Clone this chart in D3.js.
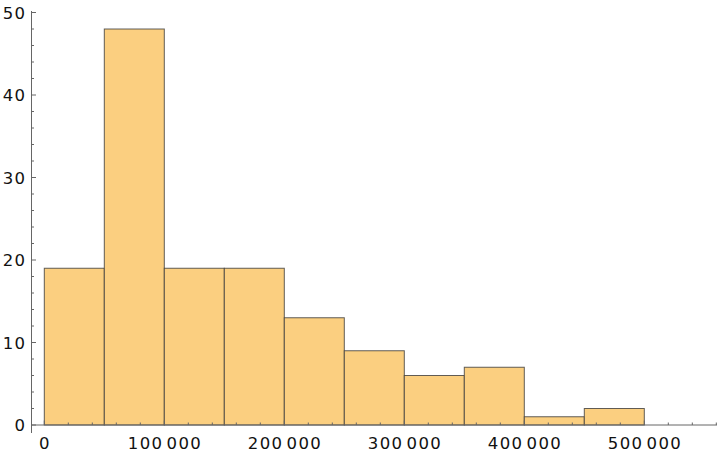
<!DOCTYPE html>
<html><head><meta charset="utf-8">
<script src="https://cdn.jsdelivr.net/npm/d3@7"></script>
<style>body{margin:0;background:#fff}svg{display:block}text{font-family:"DejaVu Sans",sans-serif;fill:#111;letter-spacing:1.4px}</style>
</head><body>
<script>
const binStarts = [0,50000,100000,150000,200000,250000,300000,350000,400000,450000];
const binWidth = 50000;
const counts = [19,48,19,19,13,9,6,7,1,2];
const xTickValues = [0,100000,200000,300000,400000,500000];
const yTickValues = [0,10,20,30,40,50];

const W=720,H=456;
const svg=d3.select("body").append("svg").attr("width",W).attr("height",H);
const x=d3.scaleLinear().domain([0,100000]).range([44.3,164.3]);
const y=d3.scaleLinear().domain([0,50]).range([425,12.5]);
const axisColor="#666";
const fs=16.5;

// bars
svg.append("g").selectAll("rect").data(counts).join("rect")
  .attr("x",(d,i)=>x(binStarts[i]))
  .attr("y",d=>y(d))
  .attr("width",(d,i)=>x(binStarts[i]+binWidth)-x(binStarts[i]))
  .attr("height",d=>y(0)-y(d))
  .attr("fill","#FBCF80")
  .attr("stroke","#3a3a3a").attr("stroke-opacity",0.8).attr("stroke-width",1);

// x axis
const xMin=x.invert(31.5), xMax=x.invert(717);
const gx=svg.append("g");
gx.append("line").attr("x1",x(xMin)).attr("x2",x(xMax)).attr("y1",y(0)).attr("y2",y(0)).attr("stroke",axisColor).attr("stroke-width",1);
const xMinor=d3.range(0,xMax,20000).filter(v=>v%100000!==0);
gx.selectAll("line.minor").data(xMinor).join("line").attr("class","minor")
  .attr("x1",d=>x(d)).attr("x2",d=>x(d)).attr("y1",y(0)).attr("y2",y(0)-2.5).attr("stroke",axisColor);
gx.selectAll("line.major").data(xTickValues).join("line").attr("class","major")
  .attr("x1",d=>x(d)).attr("x2",d=>x(d)).attr("y1",y(0)).attr("y2",y(0)-4.5).attr("stroke",axisColor);
const fmt=v=>d3.format(",")(v).replace(/,/g,"\u200A");
gx.selectAll("text").data(xTickValues).join("text")
  .attr("x",d=>x(d)+0.7).attr("y",448.7).attr("text-anchor","middle").attr("font-size",fs)
  .text(d=>fmt(d));

// y axis
const gy=svg.append("g");
gy.append("line").attr("x1",31.5).attr("x2",31.5).attr("y1",11).attr("y2",433).attr("stroke",axisColor).attr("stroke-width",1);
const yMinor=d3.range(0,51,2).filter(v=>v%10!==0);
gy.selectAll("line.minor").data(yMinor).join("line").attr("class","minor")
  .attr("x1",31.5).attr("x2",34).attr("y1",d=>y(d)).attr("y2",d=>y(d)).attr("stroke",axisColor);
gy.selectAll("line.major").data(yTickValues).join("line").attr("class","major")
  .attr("x1",31.5).attr("x2",36).attr("y1",d=>y(d)).attr("y2",d=>y(d)).attr("stroke",axisColor);
gy.selectAll("text").data(yTickValues).join("text")
  .attr("x",26.5).attr("y",d=>y(d)).attr("dy","0.37em").attr("text-anchor","end").attr("font-size",fs)
  .text(d=>d);
</script>
</body></html>
